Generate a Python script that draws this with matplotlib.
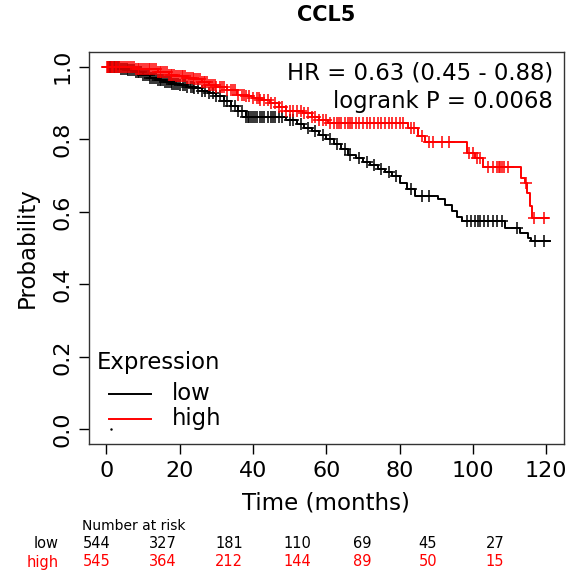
import numpy as np
import matplotlib
matplotlib.use("Agg")
import matplotlib.pyplot as plt

# Kaplan-Meier steps (time in months, survival)
low_t = [0, 2, 4, 6, 8, 10, 12, 14, 16, 18, 20, 22, 24, 26, 28, 30, 32, 34, 36, 38,
         49, 52, 54, 56, 58, 60, 62, 64, 66, 68, 70, 72, 74, 76, 78, 80, 82, 84.3,
         90.5, 92.4, 94.2, 95.6, 97, 108.8, 112.9, 115, 116]
low_s = [1.0, 0.998, 0.995, 0.99, 0.985, 0.978, 0.97, 0.964, 0.958, 0.953, 0.949,
         0.945, 0.94, 0.934, 0.927, 0.918, 0.905, 0.893, 0.878, 0.862, 0.852, 0.842,
         0.832, 0.822, 0.812, 0.80, 0.788, 0.772, 0.756, 0.748, 0.738, 0.728, 0.718,
         0.71, 0.698, 0.68, 0.662, 0.643, 0.634, 0.62, 0.601, 0.586, 0.574, 0.556,
         0.542, 0.528, 0.519]
low_end = 121

high_t = [0, 4, 8, 10, 14, 17, 19, 22, 24, 26, 28, 30, 33, 35.5, 38, 40, 42, 44.7,
          47, 49, 53.7, 56, 58, 60.5, 82.4, 85, 87, 98.3, 100.6, 102.8, 113.2, 114.2,
          114.8, 115.6, 116.2]
high_s = [1.0, 0.998, 0.995, 0.993, 0.985, 0.978, 0.975, 0.969, 0.965, 0.958, 0.951,
          0.945, 0.935, 0.923, 0.918, 0.915, 0.908, 0.90, 0.888, 0.877, 0.873, 0.862,
          0.852, 0.845, 0.832, 0.808, 0.792, 0.762, 0.748, 0.724, 0.694, 0.68, 0.653,
          0.615, 0.583]
high_end = 120.5

# censoring times
low_cens = [0.3, 0.6, 1, 1.3, 1.6, 2, 2.3, 2.6, 3, 3.5, 4, 4.5, 5, 5.5, 6, 6.5, 7,
            7.5, 8, 8.5, 9, 9.5, 10, 10.5, 11, 11.5, 12, 12.5, 13, 13.5, 14, 14.5,
            15, 15.5, 16, 16.5, 17, 17.5, 18, 18.5, 19, 19.5, 20, 21, 21.5, 22, 23,
            23.5, 24, 25, 26, 27, 28, 29, 30, 31, 32, 33, 34, 35, 36, 37, 38, 38.5,
            39, 39.5, 40, 40.5, 41, 42, 42.5, 43, 44, 45, 45.5, 46, 47, 48, 50, 51,
            53, 55, 57, 59, 61, 63, 65, 66.5, 69, 71, 73, 75, 77, 79, 83, 86, 88,
            98.5, 99.5, 100.5, 101.5, 102, 103, 104, 105.5, 106.5, 108, 112, 117,
            119.5]
high_cens = [0.2, 0.5, 0.8, 1.2, 1.5, 1.8, 2.2, 2.5, 2.8, 3.3, 3.8, 4.3, 4.8, 5.3,
             5.8, 6.3, 7, 7.5, 8, 8.5, 9, 9.5, 10, 10.5, 11, 11.5, 12, 12.5, 13,
             13.5, 14, 14.5, 15, 15.5, 16, 16.5, 17, 17.5, 18, 18.5, 19, 19.5, 20,
             20.5, 21, 21.5, 22, 22.5, 23, 23.5, 24, 24.5, 25, 25.5, 26, 26.5, 27,
             27.5, 28, 28.5, 29, 29.5, 30, 31, 31.5, 32, 33, 34, 34.5, 35, 36, 37,
             37.5, 38, 39, 40, 41, 41.5, 42, 43, 44, 45, 46, 47, 48, 49, 50, 51, 52,
             53, 54, 55, 56, 57, 58, 59, 60, 61, 62, 63, 63.5, 64, 65, 66, 66.5, 67,
             68, 69, 70, 71, 72, 73, 74, 75, 76, 77, 78, 79, 80, 81, 83, 84, 86, 88,
             89, 91.5, 93.5, 99, 100, 101, 102, 104, 105.5, 106.5, 107, 107.5, 108,
             108.5, 109.5, 114.5, 116.8, 119.5]

risk_times = [0, 20, 40, 60, 80, 100, 120]
risk_low = [544, 327, 181, 110, 69, 45, 27]
risk_high = [545, 364, 212, 144, 89, 50, 15]

hr_text = "HR = 0.63 (0.45 - 0.88)"
p_text = "logrank P = 0.0068"


def step_value(times, surv, t):
    i = np.searchsorted(times, t, side="right") - 1
    return np.asarray(surv)[i]


def draw_km(ax, times, surv, end, cens, color):
    x = list(times) + [end]
    y = list(surv) + [surv[-1]]
    ax.step(x, y, where="post", color=color, lw=1.4)
    cy = step_value(times, surv, np.array(cens))
    ax.plot(cens, cy, ls="none", marker="+", color=color, ms=8, mew=1.1)


fig = plt.figure(figsize=(5.77, 5.77), dpi=100)
ax = fig.add_axes([0.154, 0.2305, 0.823, 0.679])

draw_km(ax, low_t, low_s, low_end, low_cens, "black")
draw_km(ax, high_t, high_s, high_end, high_cens, "red")

ax.set_xlim(-4.8, 124.8)
ax.set_ylim(-0.04, 1.04)
ax.set_xticks([0, 20, 40, 60, 80, 100, 120])
ax.set_yticks([0.0, 0.2, 0.4, 0.6, 0.8, 1.0])
ax.set_yticklabels(["0.0", "0.2", "0.4", "0.6", "0.8", "1.0"], rotation=90, va="center")
ax.tick_params(labelsize=16, length=7, width=1, pad=5, direction="out")
for s in ax.spines.values():
    s.set_linewidth(1)
    s.set_color("#333333")

ax.set_xlabel("Time (months)", fontsize=16.5, labelpad=8)
ax.set_ylabel("Probability", fontsize=16.5, labelpad=10)

ax.text(0.977, 0.946, hr_text, transform=ax.transAxes, ha="right", va="center", fontsize=16.4)
ax.text(0.977, 0.875, p_text, transform=ax.transAxes, ha="right", va="center", fontsize=16.4)

# legend
ax.text(0.017, 0.207, "Expression", transform=ax.transAxes, ha="left", va="center", fontsize=16.4)
ax.plot([0.042, 0.13], [0.128, 0.128], transform=ax.transAxes, color="black", lw=1.4)
ax.plot([0.042, 0.13], [0.064, 0.064], transform=ax.transAxes, color="red", lw=1.4)
ax.text(0.175, 0.128, "low", transform=ax.transAxes, ha="left", va="center", fontsize=16.4)
ax.text(0.175, 0.064, "high", transform=ax.transAxes, ha="left", va="center", fontsize=16.4)
ax.plot([0.046], [0.038], transform=ax.transAxes, marker=".", ms=1.5, color="black")

fig.text(0.565, 0.974, "CCL5", ha="center", va="center", fontsize=15, fontweight="bold")

# number at risk table
risk_x = [97, 163, 229, 297, 362, 428, 495]
fig.text(82 / 577, 1 - 526 / 577, "Number at risk", ha="left", va="center", fontsize=10)
fig.text(59 / 577, 1 - 544 / 577, "low", ha="right", va="center", fontsize=10.5, color="black")
fig.text(59 / 577, 1 - 562 / 577, "high", ha="right", va="center", fontsize=10.5, color="red")
for px, nl, nh in zip(risk_x, risk_low, risk_high):
    fig.text(px / 577, 1 - 544 / 577, str(nl), ha="center", va="center", fontsize=10.5)
    fig.text(px / 577, 1 - 562 / 577, str(nh), ha="center", va="center", fontsize=10.5, color="red")

fig.savefig("out.png", dpi=100)
